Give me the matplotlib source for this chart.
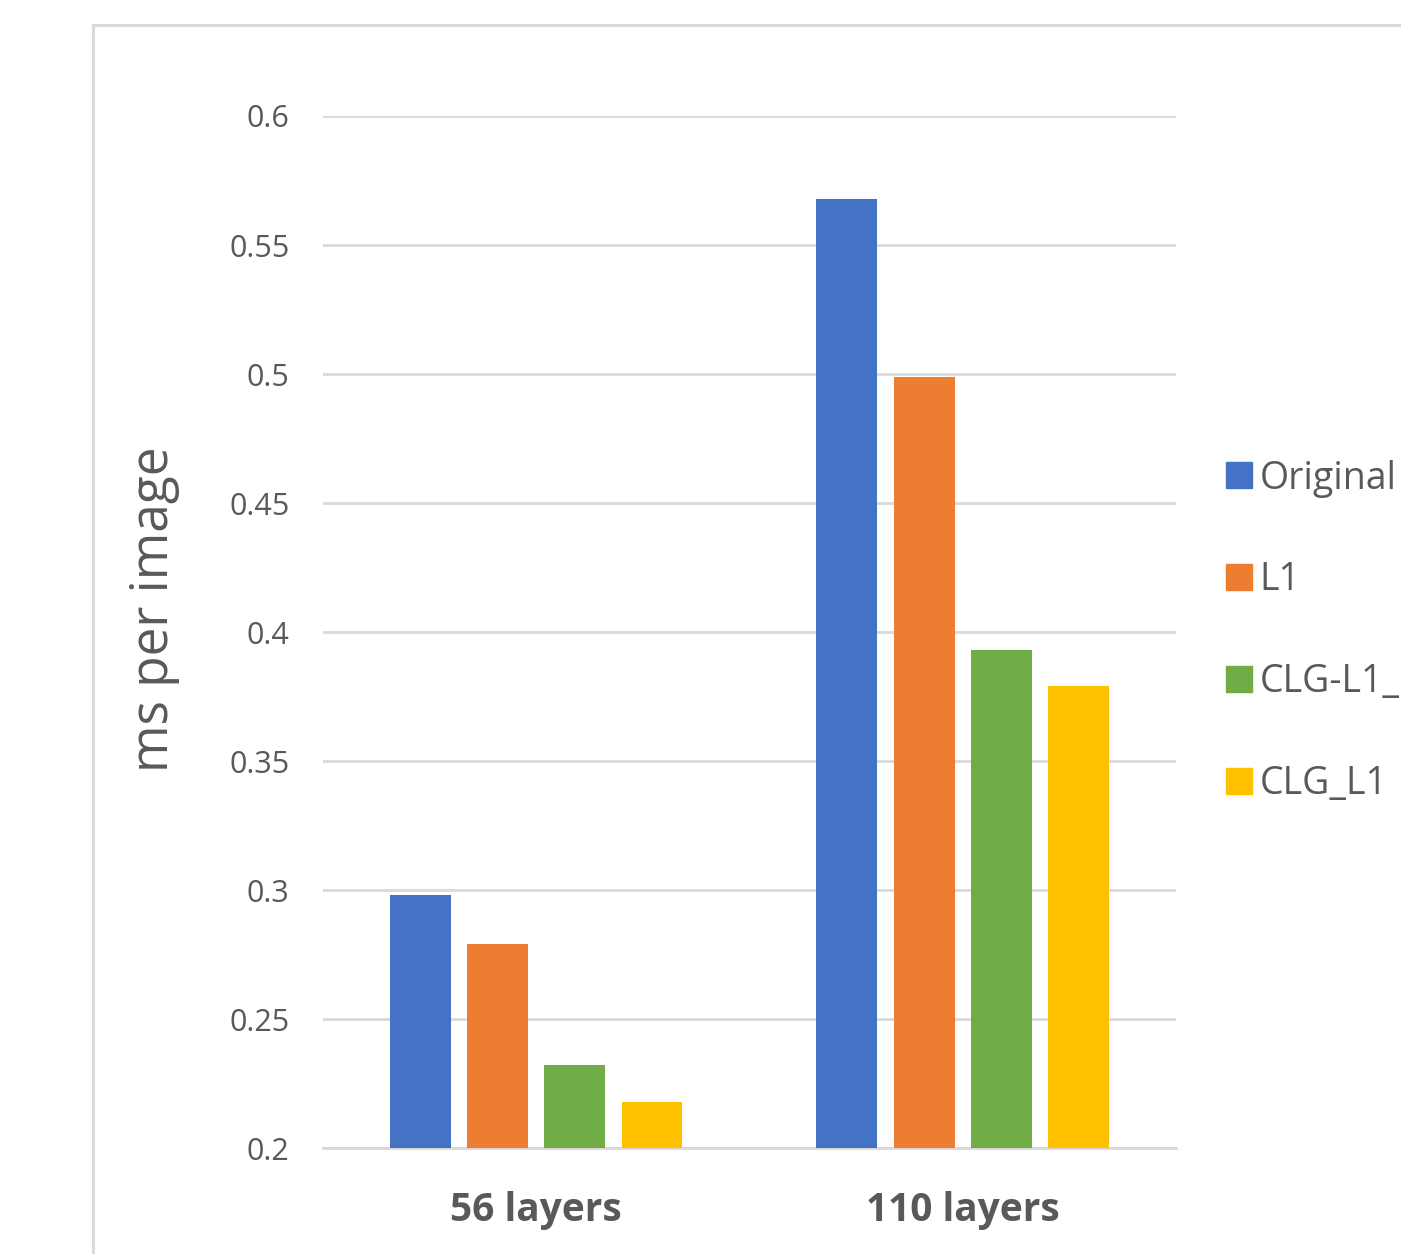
import numpy as np
import matplotlib.pyplot as plt
from matplotlib.patches import Rectangle
from matplotlib.lines import Line2D

plt.rcParams['font.family'] = ['Open Sans', 'DejaVu Sans']

categories = ["56 layers", "110 layers"]
series = ["Original", "L1", "CLG-L1_", "CLG_L1"]
values = {
    "Original": [0.298, 0.568],
    "L1": [0.279, 0.499],
    "CLG-L1_": [0.232, 0.393],
    "CLG_L1": [0.218, 0.379],
}
colors = ["#4472C4", "#ED7D31", "#70AD47", "#FFC000"]
yticks = [0.2, 0.25, 0.3, 0.35, 0.4, 0.45, 0.5, 0.55, 0.6]
ytick_labels = ["0.2", "0.25", "0.3", "0.35", "0.4", "0.45", "0.5", "0.55", "0.6"]

fig = plt.figure(figsize=(14.01, 12.54), dpi=100)
ax = fig.add_axes([0.2305, 0.0845, 0.6089, 0.823])

# outer chart frame (cut off at right and bottom like the screenshot)
fig.add_artist(Rectangle((93 / 1401, -0.05), 1.0, 1 - 25 / 1254 + 0.05,
                         transform=fig.transFigure, fill=False,
                         edgecolor="#d9d9d9", linewidth=2.2))

x = np.arange(len(categories))
width = 0.143
step = 0.181
for i, (name, c) in enumerate(zip(series, colors)):
    ax.bar(x + (i - 1.5) * step, values[name], width=width, color=c, zorder=3)

ax.set_xlim(-0.5, 1.5)
ax.set_ylim(0.2, 0.6)
ax.set_yticks(yticks)
ax.set_yticklabels(ytick_labels)
ax.set_xticks(x)
ax.set_xticklabels(categories, fontsize=28, fontweight="bold", color="#595959")
ax.tick_params(axis="y", labelsize=22, colors="#595959", length=0, pad=24)
ax.tick_params(axis="x", length=0, pad=31)
ax.grid(axis="y", color="#d9d9d9", linewidth=2, zorder=0)
for s in ["top", "right", "left"]:
    ax.spines[s].set_visible(False)
ax.spines["bottom"].set_color("#d9d9d9")
ax.spines["bottom"].set_linewidth(2)
ax.set_axisbelow(True)

ax.set_ylabel("ms per image", fontsize=37, color="#595959")
ax.yaxis.set_label_coords(-0.1676, 0.522)

handles = [Line2D([], [], marker="s", linestyle="none", markersize=18.5,
                  markerfacecolor=c, markeredgecolor=c) for c in colors]
fig.legend(handles, series, loc="upper left", bbox_to_anchor=(0.856, 0.6485),
           frameon=False, fontsize=27, labelcolor="#595959",
           labelspacing=1.70, handletextpad=0.0, borderpad=0, handlelength=1.1)

fig.savefig("out.png", dpi=100)
